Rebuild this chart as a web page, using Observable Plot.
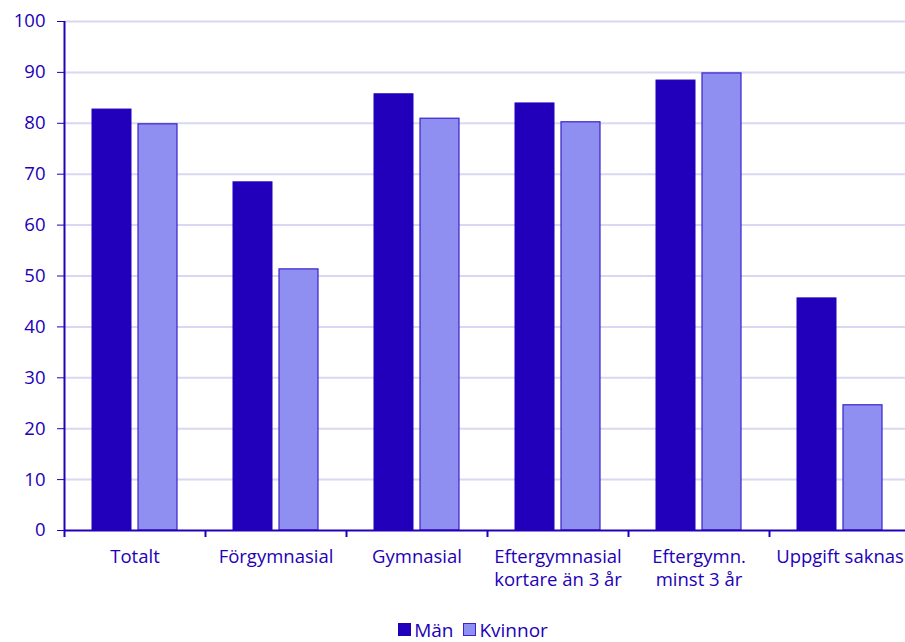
<!DOCTYPE html>
<html><head><meta charset="utf-8">
<script src="https://cdn.jsdelivr.net/npm/d3@7"></script>
<script src="https://cdn.jsdelivr.net/npm/@observablehq/plot@0.6"></script>
<style>
body{margin:0;background:#fff;font-family:"Open Sans","Noto Sans",sans-serif;color:#2200b8;overflow:hidden;}
#legend{width:905px;height:42px;box-sizing:border-box;padding-top:17px;padding-left:41px;text-align:center;font-size:19px;line-height:24px;white-space:nowrap;}
#legend span.item{display:inline-flex;align-items:center;margin:0 5px;}
#legend span.sw{display:inline-block;width:13px;height:13px;margin-right:3px;box-sizing:border-box;}
</style>
</head><body>
<div id="chart"></div>
<div id="legend"></div>
<script>
const categories = ["Totalt","Förgymnasial","Gymnasial","Eftergymnasial\nkortare än 3 år","Eftergymn.\nminst 3 år","Uppgift saknas"];
const man = [82.7,68.4,85.7,83.9,88.4,45.6];
const kvinnor = [79.8,51.3,80.9,80.2,89.8,24.6];
const yTicks = [0,10,20,30,40,50,60,70,80,90,100];
const seriesNames = ["Män","Kvinnor"];
const seriesFill = ["#2200bb","#8f8ff2"];
const seriesStroke = ["#2200bb","#3a22cc"];
const axisColor = "#2200b8";

const dataM = categories.map((c,i)=>({cat:c, value:man[i]}));
const dataK = categories.map((c,i)=>({cat:c, value:kvinnor[i]}));

const W = 905, ML = 64, MR = -5;
const step = (W - ML - MR) / categories.length;

const chart = Plot.plot({
  width: W, height: 600,
  marginLeft: ML, marginRight: MR, marginTop: 21, marginBottom: 70,
  style: {color: axisColor, fontFamily: "'Open Sans', 'Noto Sans', sans-serif", fontSize: "18.5px", background: "#fff", overflow: "hidden"},
  x: {domain: categories, paddingInner: 0.723, paddingOuter: 0.3615, label: null},
  y: {domain: [0,100], label: null},
  marks: [
    Plot.ruleY(yTicks.slice(1), {stroke: "#d8d8f2", strokeWidth: 2}),
    Plot.barY(dataM, {x: "cat", y: "value", dx: -23, fill: seriesFill[0], stroke: seriesStroke[0], strokeWidth: 1}),
    Plot.barY(dataK, {x: "cat", y: "value", dx: 23, fill: seriesFill[1], stroke: seriesStroke[1], strokeWidth: 1.2}),
    Plot.ruleY([0], {stroke: axisColor, strokeWidth: 2}),
    Plot.ruleX([categories[0]], {dx: -step/2, y1: 0, y2: 100, stroke: axisColor, strokeWidth: 2}),
    Plot.ruleX(categories, {dx: -step/2, y1: 0, y2: 0, insetBottom: -7, stroke: axisColor, strokeWidth: 2}),
    Plot.axisY({ticks: yTicks, tickSize: 7, tickPadding: 12, fontSize: 18.5, tickFormat: d => String(d)}),
    Plot.axisX({tickSize: 0, tickPadding: 16, fontSize: 18.5, lineHeight: 1.25})
  ]
});
document.getElementById("chart").appendChild(chart);

const leg = document.getElementById("legend");
seriesNames.forEach((n,i)=>{
  const it = document.createElement("span"); it.className="item";
  const sw = document.createElement("span"); sw.className="sw";
  sw.style.background = seriesFill[i]; sw.style.border = "1px solid " + seriesStroke[i];
  it.appendChild(sw);
  const t = document.createElement("span"); t.textContent = n;
  it.appendChild(t);
  leg.appendChild(it);
});
</script>
</body></html>
